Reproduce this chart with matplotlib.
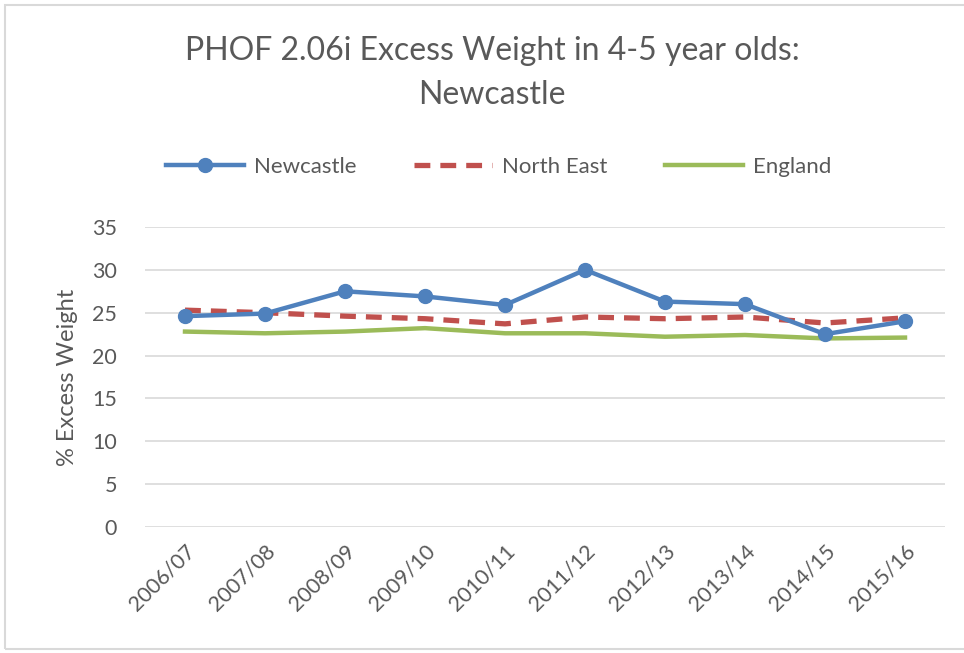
import matplotlib.pyplot as plt
from matplotlib.patches import Rectangle

years = ['2006/07', '2007/08', '2008/09', '2009/10', '2010/11',
         '2011/12', '2012/13', '2013/14', '2014/15', '2015/16']
newcastle = [24.6, 24.9, 27.5, 26.9, 25.9, 30.0, 26.3, 26.0, 22.5, 24.0]
north_east = [25.3, 25.0, 24.6, 24.3, 23.7, 24.5, 24.3, 24.5, 23.8, 24.4]
england = [22.8, 22.6, 22.8, 23.2, 22.6, 22.6, 22.2, 22.4, 22.0, 22.1]

plt.rcParams['font.family'] = ['Lato', 'DejaVu Sans']
text_col = '#595959'

fig = plt.figure(figsize=(9.64, 6.53), dpi=100)
ax = fig.add_axes([145 / 964, 1 - 527 / 653, 800 / 964, 300 / 653])

# chart border
fig.patches.append(Rectangle((5 / 964, 4 / 653), 1.2, 1 - 9 / 653, transform=fig.transFigure,
                             fill=False, edgecolor='#D9D9D9', linewidth=1.5))

x = range(len(years))
ax.plot(x, newcastle, color='#4F81BD', linewidth=3.2, marker='o', markersize=10,
        label='Newcastle', zorder=3)
ax.plot(x, north_east, color='#C0504D', linewidth=3.8, linestyle=(0, (3.0, 1.9)),
        label='North East', zorder=2)
ax.plot(x, england, color='#9BBB59', linewidth=3.2, label='England', zorder=1)

ax.set_xlim(-0.5, len(years) - 0.5)
ax.set_ylim(0, 35)
ax.set_yticks(range(0, 36, 5))
ax.set_xticks(list(x))
ax.set_xticklabels(years, rotation=45, ha='right', rotation_mode='anchor')
ax.tick_params(axis='both', length=0, labelsize=15.5, colors=text_col)
ax.tick_params(axis='y', pad=20)
ax.tick_params(axis='x', pad=10)
ax.grid(axis='y', color='#D9D9D9', linewidth=1.2)
ax.set_axisbelow(True)
for s in ax.spines.values():
    s.set_visible(False)

ax.set_ylabel('% Excess Weight', fontsize=17, color=text_col, labelpad=10)

fig.text(492 / 964, 1 - 73 / 653, 'PHOF 2.06i Excess Weight in 4-5 year olds:\nNewcastle',
         ha='center', va='center', fontsize=23, color=text_col, linespacing=1.55)

fig.legend(loc='center', bbox_to_anchor=(499 / 964, 1 - 167 / 653), ncol=3, frameon=False,
           fontsize=16, labelcolor=text_col, handlelength=3.5, columnspacing=2.6,
           handletextpad=0.45)

fig.savefig('out.png', dpi=100)
